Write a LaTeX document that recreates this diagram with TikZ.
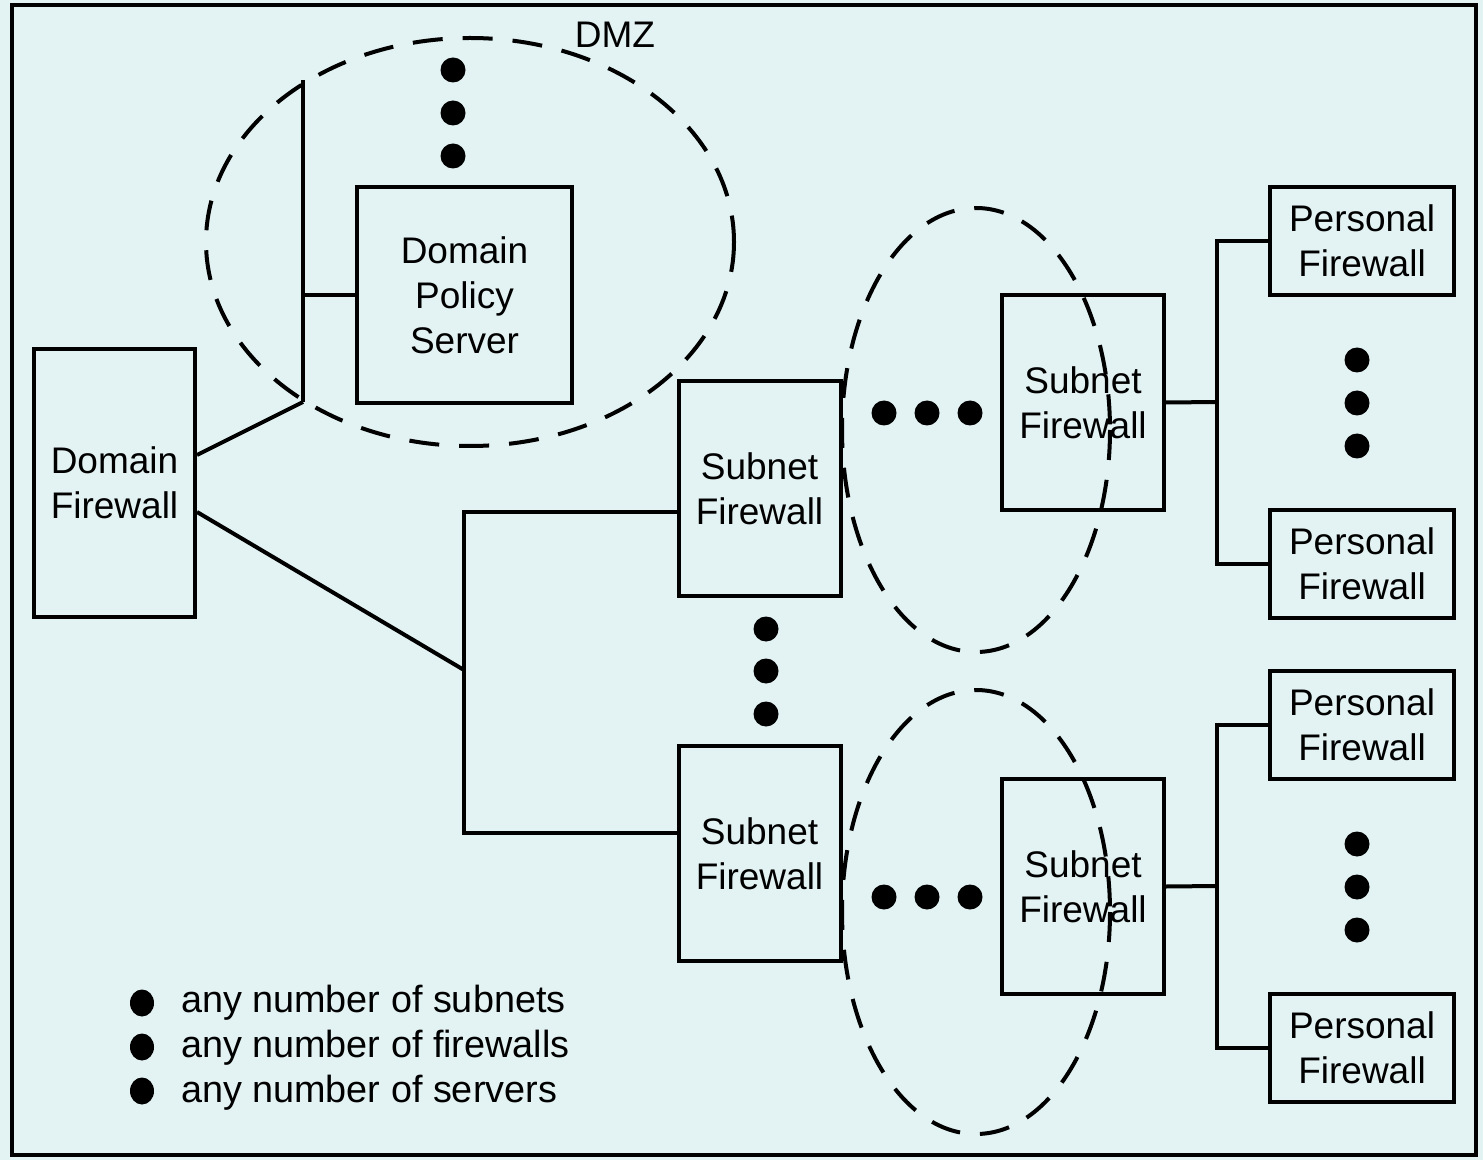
\documentclass[tikz,border=0pt]{standalone}
\usepackage{fontspec}
\setmainfont{Liberation Sans}
\definecolor{bgcolor}{RGB}{227,242,243}
\tikzset{
  fwbox/.style={draw,inner sep=0pt,align=center},
  dfbox/.style={fwbox,minimum width=80.5pt,minimum height=134pt},
  dpsbox/.style={fwbox,minimum width=107.5pt,minimum height=108pt},
  sfbox/.style={fwbox,minimum width=81pt,minimum height=107.5pt},
  pfbox/.style={fwbox,minimum width=92pt,minimum height=54pt},
  zone/.style={dash pattern=on 15pt off 10pt},
  legtext/.style={anchor=west,inner sep=0pt,font=\fontsize{18.9}{22.5}\selectfont},
}

\begin{document}
\begin{tikzpicture}[x=0.5pt,y=-0.5pt,line width=2pt,
    font=\fontsize{18.5}{22.5}\selectfont]
  \useasboundingbox (0,0) rectangle (1483,1160);
  \fill[bgcolor] (0,0) rectangle (1483,1160);
  \draw (12,5) rectangle (1476,1155);
  \node[dfbox] (df) at (114.5,483) {Domain\\Firewall};
  \node[dpsbox] (dps) at (464.5,295) {Domain\\Policy\\Server};
  \node[sfbox] (sf1) at (759.5,488.5) {Subnet\\Firewall};
  \node[sfbox] (sf2) at (759.5,853.5) {Subnet\\Firewall};
  \node[sfbox] (sf3) at (1083,402.5) {Subnet\\Firewall};
  \node[sfbox] (sf4) at (1083,886.5) {Subnet\\Firewall};
  \foreach \n/\y in {pf1/241,pf2/564,pf3/725,pf4/1048} { \node[pfbox] (\n) at (1362,\y) {Personal\\Firewall}; }
  \node (dmz) at (615,35) {DMZ};
  \coordinate (bustop) at (303,80);
  \coordinate (busbot) at (303,402);
  \coordinate (lanjoin) at (464,670);
  \coordinate (br1) at (1217,402);
  \coordinate (br2) at (1217,886);
  \draw (bustop) -- (busbot);
  \draw ([yshift=14pt]df.east) -- (busbot);
  \draw (dps.west) -- (dps.west -| bustop);
  \draw ([yshift=-14.5pt]df.east) -- (lanjoin);
  \draw ([yshift=-11.5pt]sf1.west) -| (lanjoin) |- ([yshift=10.5pt]sf2.west);
  \draw (sf3.east) -- (br1);
  \draw (pf1.west) -| (br1) |- (pf2.west);
  \draw (sf4.east) -- (br2);
  \draw (pf3.west) -| (br2) |- (pf4.west);
  \draw[zone] (470,242) ellipse [x radius=264,y radius=204];
  \draw[zone] (976,430) ellipse [x radius=134,y radius=222];
  \draw[zone] (976,912) ellipse [x radius=134,y radius=222];
  \foreach \y in {70,113,156} { \fill (453,\y) circle (12.5); }
  \foreach \y in {629,671,714} { \fill (766,\y) circle (12.5); }
  \foreach \x in {884,927,970} { \fill (\x,413) circle (12.5); \fill (\x,897) circle (12.5); }
  \foreach \y in {360,403,446,844,887,930} { \fill (1357,\y) circle (12.5); }
  \foreach \y in {1003,1047,1091} { \fill (142,\y) ellipse [x radius=12,y radius=13.5]; }
  \node[legtext] (leg1) at (179,1003) {any number of subnets};
  \node[legtext] (leg2) at (179,1048) {any number of firewalls};
  \node[legtext] (leg3) at (179,1093) {any number of servers};
\end{tikzpicture}
\end{document}
